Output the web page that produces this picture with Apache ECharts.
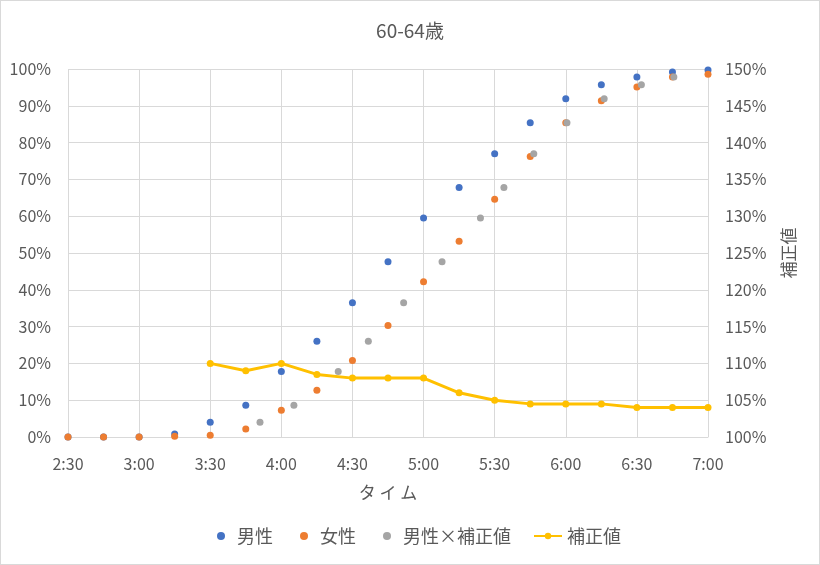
<!DOCTYPE html>
<html>
<head>
<meta charset="utf-8">
<script src="https://cdn.jsdelivr.net/npm/echarts@6/dist/echarts.min.js"></script>
<style>
html, body { margin: 0; padding: 0; background: #fff; }
#main { width: 820px; height: 565px; box-sizing: border-box; border: 1px solid #d9d9d9; }
</style>
</head>
<body>
<div id="main"></div>
<script>
var colors = ['#4472C4', '#ED7D31', '#A5A5A5', '#FFC000'];

// times in minutes (2:30 = 150)
var times = [150, 165, 180, 195, 210, 225, 240, 255, 270, 285, 300, 315, 330, 345, 360, 375, 390, 405, 420];
var male = [0, 0, 0, 0.8, 4.0, 8.6, 17.8, 26.0, 36.5, 47.6, 59.5, 67.8, 77.0, 85.4, 91.9, 95.7, 97.8, 99.2, 99.7];
var female = [0, 0, 0, 0.2, 0.5, 2.2, 7.3, 12.7, 20.8, 30.3, 42.2, 53.2, 64.6, 76.2, 85.4, 91.4, 95.1, 97.8, 98.6];

// correction value (%) from 3:30
var corrTimes = [210, 225, 240, 255, 270, 285, 300, 315, 330, 345, 360, 375, 390, 405, 420];
var corr = [110, 109, 110, 108.5, 108, 108, 108, 106, 105, 104.5, 104.5, 104.5, 104, 104, 104];

// male x correction: shifted times and male values
var grayTimes = [231, 245.3, 264, 276.7, 291.6, 307.8, 324, 333.9, 346.5, 360.5, 376.2, 391.9, 405.6];
var grayVals = [4.0, 8.6, 17.8, 26.0, 36.5, 47.6, 59.5, 67.8, 77.0, 85.4, 91.9, 95.7, 97.8];

var xTicks = ['2:30', '3:00', '3:30', '4:00', '4:30', '5:00', '5:30', '6:00', '6:30', '7:00'];

function pairs(xs, ys) {
    var out = [];
    for (var i = 0; i < xs.length; i++) {
        out.push([xs[i], ys[i]]);
    }
    return out;
}

var font = '"Noto Sans CJK JP", "Noto Sans", sans-serif';
var textColor = '#595959';

var myChart = echarts.init(document.getElementById('main'));
var option = {
    color: colors,
    textStyle: { fontFamily: font },
    title: {
        text: '60-64歳',
        left: 'center',
        top: 15,
        textStyle: { fontFamily: font, fontSize: 19, fontWeight: 'normal', color: textColor }
    },
    grid: { left: 67, right: 111, top: 68, bottom: 127 },
    legend: [{
        bottom: 14,
        left: 211,
        itemWidth: 8,
        itemHeight: 8,
        itemGap: 27,
        icon: 'circle',
        textStyle: { fontFamily: font, fontSize: 18, color: textColor, padding: [0, 0, 0, 7] },
        data: ['男性', '女性', '男性×補正値']
    }, {
        bottom: 14,
        left: 527,
        itemWidth: 28,
        itemHeight: 8,
        textStyle: { fontFamily: font, fontSize: 18, color: textColor },
        data: ['補正値']
    }],
    xAxis: {
        type: 'value',
        min: 150,
        max: 420,
        interval: 30,
        name: 'タ イ ム',
        nameLocation: 'middle',
        nameGap: 47,
        nameTextStyle: { fontFamily: font, fontSize: 17, color: textColor },
        axisLine: { show: true, onZero: false, lineStyle: { color: '#d9d9d9' } },
        axisTick: { show: false },
        axisLabel: {
            fontSize: 16,
            color: textColor,
            margin: 19,
            formatter: function (v) {
                return xTicks[Math.round((v - 150) / 30)];
            }
        },
        splitLine: { show: true, lineStyle: { color: '#d9d9d9' } }
    },
    yAxis: [{
        type: 'value',
        min: 0,
        max: 100,
        interval: 10,
        axisLine: { show: false },
        axisTick: { show: false },
        axisLabel: { fontSize: 16, color: textColor, margin: 17, formatter: '{value}%' },
        splitLine: { show: true, lineStyle: { color: '#d9d9d9' } }
    }, {
        type: 'value',
        min: 100,
        max: 150,
        interval: 5,
        position: 'right',
        name: '補正値',
        nameLocation: 'middle',
        nameRotate: 90,
        nameGap: 72,
        nameTextStyle: { fontFamily: font, fontSize: 17, color: textColor },
        axisLine: { show: false },
        axisTick: { show: false },
        axisLabel: { fontSize: 16, color: textColor, margin: 17, formatter: '{value}%' },
        splitLine: { show: false }
    }],
    series: [{
        name: '男性',
        type: 'scatter',
        symbolSize: 7,
        itemStyle: { color: colors[0], opacity: 1 },
        data: pairs(times, male)
    }, {
        name: '女性',
        type: 'scatter',
        symbolSize: 7,
        itemStyle: { color: colors[1], opacity: 1 },
        data: pairs(times, female)
    }, {
        name: '男性×補正値',
        type: 'scatter',
        symbolSize: 7,
        itemStyle: { color: colors[2], opacity: 1 },
        data: pairs(grayTimes, grayVals)
    }, {
        name: '補正値',
        type: 'line',
        yAxisIndex: 1,
        symbol: 'circle',
        symbolSize: 7,
        showSymbol: true,
        lineStyle: { width: 3, color: colors[3] },
        itemStyle: { color: colors[3] },
        data: pairs(corrTimes, corr)
    }]
};
myChart.setOption(option);
</script>
</body>
</html>
